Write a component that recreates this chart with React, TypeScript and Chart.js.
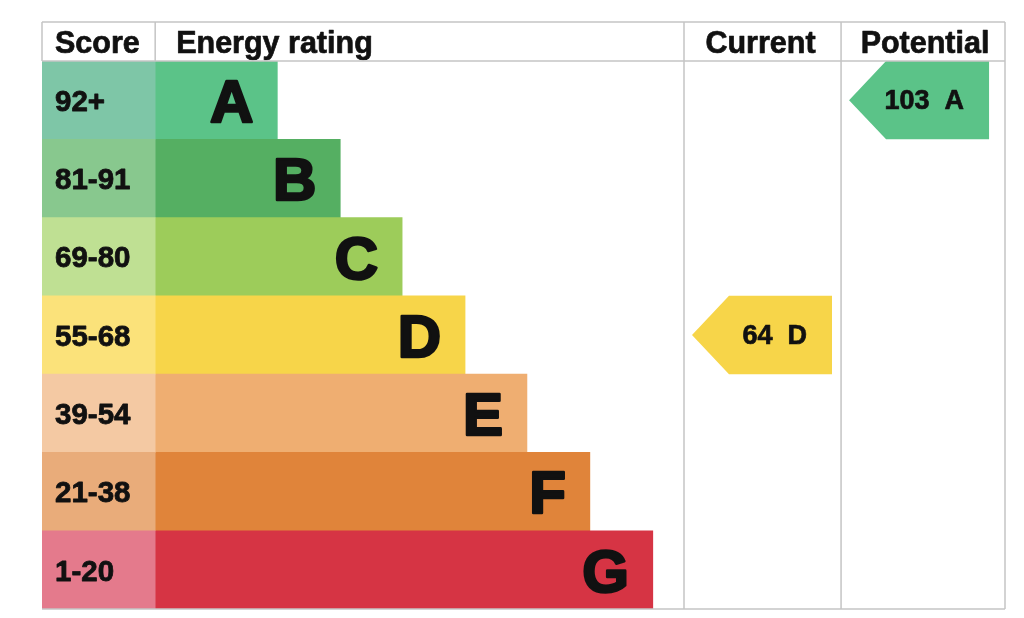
import React, { useEffect, useRef } from 'react';
import Chart from 'chart.js/auto';

const bands = ['A', 'B', 'C', 'D', 'E', 'F', 'G'];
const scoreRanges = ['92+', '81-91', '69-80', '55-68', '39-54', '21-38', '1-20'];
// bar length, as % of the width of the "Energy rating" column
const barLengths = [23.1, 35.0, 46.7, 58.6, 70.3, 82.2, 94.1];
const currentScore = 64;
const currentBand = 'D';
const potentialScore = 103;
const potentialBand = 'A';

const bandColors = ['#5bc388', '#55af62', '#9dcc5a', '#f7d549', '#efae71', '#e0843a', '#d63444'];
const scoreCellColors = ['#7ec6a7', '#88c88e', '#bfe093', '#fbe27a', '#f4c9a3', '#e9ac7a', '#e47a8c'];

// column edges in x-scale units
const SCORE_START = -21.4;
const RATING_END = 100;
const CURRENT_END = 129.7;
const POTENTIAL_END = 160.7;

const FONT = '"Liberation Sans", Arial, sans-serif';
const LINE = '#c4c4c4';
const INK = '#111';

// filled text with a thin outline, to get the heavier weight of the original
function heavyText(ctx, text, x, y, size, extra) {
  ctx.font = `bold ${size}px ${FONT}`;
  ctx.fillStyle = INK;
  ctx.strokeStyle = INK;
  ctx.lineWidth = extra;
  ctx.lineJoin = 'round';
  ctx.fillText(text, x, y);
  ctx.strokeText(text, x, y);
}

const epcPlugin = {
  id: 'epc',
  afterDatasetsDraw(chart) {
    const { ctx, chartArea } = chart;
    const x = chart.scales.x;
    const y = chart.scales.y;
    const rowH = (chartArea.bottom - chartArea.top) / bands.length;
    const headTop = chartArea.top - 39;
    const px = (v) => x.getPixelForValue(v);

    ctx.save();
    ctx.textBaseline = 'alphabetic';

    // score ranges + band letters
    bands.forEach((b, i) => {
      const cy = y.getPixelForValue(i);
      ctx.textAlign = 'left';
      heavyText(ctx, scoreRanges[i], px(SCORE_START) + 13, cy + 30 * 0.716 / 2, 29.5, 0.8);
      ctx.textAlign = 'right';
      heavyText(ctx, b, px(barLengths[i]) - 24, cy + 61 * 0.716 / 2, 60, 2.6);
    });

    // arrows
    const drawArrow = (colStart, score, band) => {
      const idx = bands.indexOf(band);
      const cy = y.getPixelForValue(idx);
      const left = px(colStart) + 8;
      const right = left + 140;
      const top = cy - rowH / 2;
      const bottom = cy + rowH / 2;
      ctx.beginPath();
      ctx.moveTo(left, cy);
      ctx.lineTo(left + 37, top);
      ctx.lineTo(right, top);
      ctx.lineTo(right, bottom);
      ctx.lineTo(left + 37, bottom);
      ctx.closePath();
      ctx.fillStyle = bandColors[idx];
      ctx.fill();
      ctx.textAlign = 'right';
      heavyText(ctx, `${score}  ${band}`, right - 25, cy + 26 * 0.716 / 2, 27, 0.7);
    };
    drawArrow(RATING_END, currentScore, currentBand);
    drawArrow(CURRENT_END, potentialScore, potentialBand);

    // headers
    const headBase = chartArea.top - 8;
    ctx.textAlign = 'left';
    heavyText(ctx, 'Score', px(SCORE_START) + 13, headBase, 30.5, 0.7);
    heavyText(ctx, 'Energy rating', px(0) + 21, headBase, 30.5, 0.7);
    ctx.textAlign = 'center';
    heavyText(ctx, 'Current', (px(RATING_END) + px(CURRENT_END)) / 2 - 2, headBase, 30.5, 0.7);
    heavyText(ctx, 'Potential', (px(CURRENT_END) + px(POTENTIAL_END)) / 2 + 2, headBase, 30.5, 0.7);

    // table lines
    ctx.strokeStyle = LINE;
    ctx.lineWidth = 1.5;
    const line = (x1, y1, x2, y2) => {
      ctx.beginPath();
      ctx.moveTo(x1, y1);
      ctx.lineTo(x2, y2);
      ctx.stroke();
    };
    line(chartArea.left, headTop, chartArea.right, headTop);
    line(chartArea.left, chartArea.top, chartArea.right, chartArea.top);
    line(chartArea.left, chartArea.bottom, chartArea.right, chartArea.bottom);
    line(px(SCORE_START), headTop, px(SCORE_START), chartArea.top);
    line(px(0), headTop, px(0), chartArea.top);
    [RATING_END, CURRENT_END, POTENTIAL_END].forEach((v) => line(px(v), headTop, px(v), chartArea.bottom));

    ctx.restore();
  },
};

export default function App() {
  const chartRef = useRef(null);
  const chartInstanceRef = useRef(null);

  useEffect(() => {
    document.body.style.margin = '0';
    const ctx = chartRef.current.getContext('2d');

    if (chartInstanceRef.current) {
      chartInstanceRef.current.destroy();
    }

    chartInstanceRef.current = new Chart(ctx, {
      type: 'bar',
      data: {
        labels: bands,
        datasets: [
          {
            label: 'Score',
            data: bands.map(() => [SCORE_START, 0]),
            backgroundColor: scoreCellColors,
            grouped: false,
            barPercentage: 1,
            categoryPercentage: 1,
          },
          {
            label: 'Energy rating',
            data: barLengths,
            backgroundColor: bandColors,
            grouped: false,
            barPercentage: 1,
            categoryPercentage: 1,
          },
        ],
      },
      options: {
        indexAxis: 'y',
        responsive: true,
        maintainAspectRatio: false,
        animation: false,
        layout: { padding: { left: 42, right: 19, top: 61, bottom: 9 } },
        scales: {
          x: { type: 'linear', min: SCORE_START, max: POTENTIAL_END, display: false },
          y: { display: false },
        },
        plugins: {
          legend: { display: false },
          tooltip: { enabled: false },
        },
      },
      plugins: [epcPlugin],
    });

    if (document.fonts && document.fonts.load) {
      document.fonts.load(`bold 30px ${FONT}`).then(() => {
        if (chartInstanceRef.current) chartInstanceRef.current.draw();
      });
    }

    return () => {
      if (chartInstanceRef.current) {
        chartInstanceRef.current.destroy();
        chartInstanceRef.current = null;
      }
    };
  }, []);

  return (
    <div style={{ position: 'relative', width: 1024, height: 618 }}>
      <canvas ref={chartRef} />
    </div>
  );
}
